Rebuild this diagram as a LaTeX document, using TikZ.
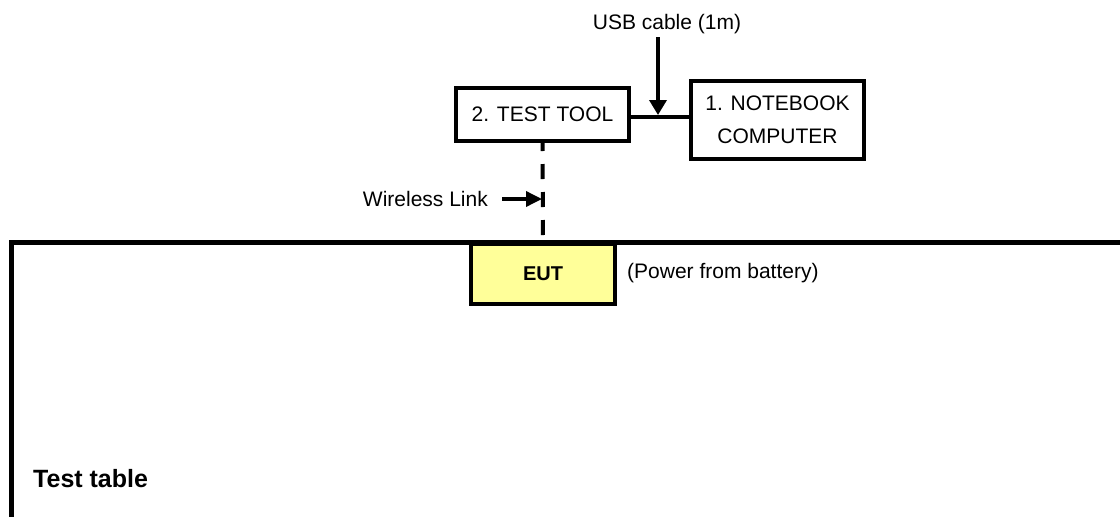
\documentclass[tikz,border=0pt]{standalone}
\usepackage{fontspec}
\setmainfont{Liberation Sans}
\usetikzlibrary{arrows.meta}
\definecolor{euty}{HTML}{FFFF99}
\tikzset{
  lbl/.style={inner sep=0pt, font=\fontsize{21}{33}\selectfont},
  boxn/.style={draw=black, line width=3.5pt, inner sep=0pt, align=center, font=\fontsize{21}{33}\selectfont},
  thick3/.style={line width=3.5pt},
}
\begin{document}
\begin{tikzpicture}[x=1pt,y=-1pt]
\useasboundingbox (0,0) rectangle (1120,517);
% table outline
\draw[line width=5pt, line join=miter] (11.5,530) -- (11.5,242) -- (1130,242);
% nodes
\node[lbl] (usb) at (667,24) {USB cable (1m)};
\node[boxn, minimum width=173pt, minimum height=53pt] (tool) at (542.5,114.5) {2. TEST TOOL};
\node[boxn, minimum width=173pt, minimum height=78pt] (nb) at (777.5,120) {1. NOTEBOOK\\COMPUTER};
\coordinate (cab) at (658,117);
\coordinate (usbtop) at (658,37);
\draw[thick3] (tool.east |- cab) -- (nb.west |- cab);
\draw[thick3, -{Triangle[length=15pt,width=17pt]}] (usbtop) -- (658,115);
% wireless
\coordinate (tabletop) at (543,242);
\draw[line width=4pt, dash pattern=on 15pt off 13pt, dash phase=21pt] (tabletop) -- (tool.south);
\node[lbl, anchor=east] (wl) at (488,199) {Wireless Link};
\coordinate (wlstart) at (502,199);
\coordinate (wlend) at (542,199);
\draw[thick3, -{Triangle[length=16pt,width=15pt]}] (wlstart) -- (wlend);
% EUT
\node[draw=black, fill=euty, line width=4pt, minimum width=144pt, minimum height=60pt, inner sep=0pt, font=\fontsize{20}{24}\selectfont\bfseries] (eut) at (543,274) {EUT};
\node[lbl, anchor=west] (pwr) at (627,273) {(Power from battery)};
\node[inner sep=0pt, anchor=west, font=\fontsize{25}{30}\selectfont\bfseries] (tbl) at (33,479) {Test table};
\end{tikzpicture}
\end{document}
